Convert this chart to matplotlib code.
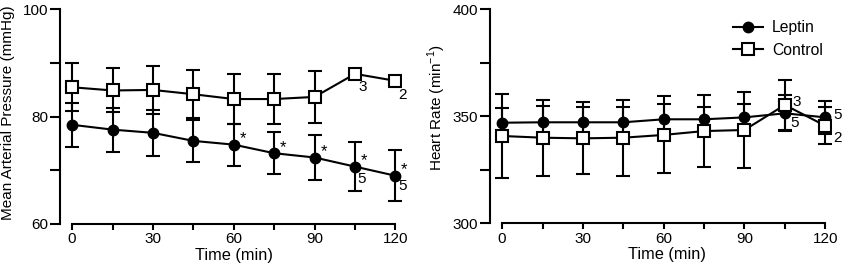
import matplotlib.pyplot as plt
from matplotlib.ticker import MultipleLocator
import numpy as np

plt.rcParams['font.family'] = ['Liberation Sans', 'DejaVu Sans']
plt.rcParams['mathtext.fontset'] = 'custom'
plt.rcParams['mathtext.rm'] = 'Liberation Sans'

time = np.array([0, 15, 30, 45, 60, 75, 90, 105, 120])

# Mean arterial pressure (mmHg)
map_leptin = np.array([78.5, 77.6, 77.0, 75.5, 74.8, 73.2, 72.4, 70.7, 69.0])
map_leptin_se = np.array([4.1, 4.1, 4.3, 3.9, 3.9, 3.9, 4.2, 4.6, 4.8])
map_control = np.array([85.5, 84.9, 85.0, 84.2, 83.3, 83.3, 83.7, 88.0, 86.7])
map_control_se = np.array([4.5, 4.1, 4.5, 4.5, 4.6, 4.7, 4.8, 0, 0])

# Heart rate (min-1)
hr_leptin = np.array([347.0, 347.2, 347.2, 347.2, 348.6, 348.6, 349.5, 351.4, 349.5])
hr_leptin_se = np.array([7.0, 7.6, 7.0, 7.1, 7.1, 5.9, 6.2, 8.5, 7.6])
hr_control = np.array([340.8, 340.0, 339.7, 340.0, 341.3, 343.1, 343.6, 355.3, 345.6])
hr_control_se = np.array([19.5, 17.8, 16.8, 17.8, 18.0, 16.8, 17.8, 11.7, 8.7])

LW = 1.5
fig = plt.figure(figsize=(8.43, 2.68), dpi=100)
ax1 = fig.add_axes([60 / 843, 44 / 268, 340.8 / 843, 214.5 / 268])
ax2 = fig.add_axes([490 / 843, 44.7 / 268, 340.6 / 843, 214 / 268])


def draw(ax, lep, lep_se, con, con_se):
    m = lep_se > 0
    ax.errorbar(time[m], lep[m], yerr=lep_se[m], fmt='none', ecolor='black',
                elinewidth=LW, capsize=5, capthick=LW, zorder=2)
    m = con_se > 0
    ax.errorbar(time[m], con[m], yerr=con_se[m], fmt='none', ecolor='black',
                elinewidth=LW, capsize=5, capthick=LW, zorder=2)
    h1, = ax.plot(time, lep, '-o', color='black', lw=LW, ms=7.5,
                  mfc='black', mec='black', zorder=3, label='Leptin')
    h2, = ax.plot(time, con, '-s', color='black', lw=LW, ms=8.5,
                  mfc='white', mec='black', mew=LW, zorder=4, label='Control')
    return h1, h2


def style(ax, ylim, ymaj, ymin):
    ax.set_xlim(-4.5, 122)
    ax.set_ylim(*ylim)
    ax.spines[['top', 'right']].set_visible(False)
    ax.spines['bottom'].set_bounds(0, 120)
    for s in ['left', 'bottom']:
        ax.spines[s].set_linewidth(LW)
    ax.xaxis.set_major_locator(MultipleLocator(30))
    ax.xaxis.set_minor_locator(MultipleLocator(15))
    ax.yaxis.set_major_locator(MultipleLocator(ymaj))
    ax.yaxis.set_minor_locator(MultipleLocator(ymin))
    ax.tick_params(which='both', direction='out', width=LW, labelsize=11, pad=1.5)
    ax.tick_params(axis='y', which='both', length=7)
    ax.tick_params(axis='x', which='both', length=4.5)
    ax.set_xlabel('Time (min)', fontsize=11.8)


def note(ax, x, y, s, dx, dy, size=11):
    ax.annotate(s, (x, y), xytext=(dx * 0.72, -dy * 0.72), textcoords='offset points',
                ha='center', va='center', fontsize=size)


# Left panel
draw(ax1, map_leptin, map_leptin_se, map_control, map_control_se)
style(ax1, (60, 100), 20, 10)
ax1.set_ylabel('Mean Arterial Pressure (mmHg)', fontsize=11)
ax1.yaxis.set_label_coords(-0.132, 0.518)
ax1.xaxis.set_label_coords(0.509, -0.11)
for t, v in zip(time[4:], map_leptin[4:]):
    note(ax1, t, v, '*', 9, -6, size=12)
note(ax1, 105, map_control[7], '3', 8, 13)
note(ax1, 120, map_control[8], '2', 7, 14)
note(ax1, 105, map_leptin[7], '5', 7, 12)
note(ax1, 120, map_leptin[8], '5', 7, 10)

# Right panel
h1, h2 = draw(ax2, hr_leptin, hr_leptin_se, hr_control, hr_control_se)
style(ax2, (300, 400), 50, 25)
ax2.set_ylabel('Heart Rate (min$^{-1}$)', fontsize=11)
ax2.yaxis.set_label_coords(-0.123, 0.539)
ax2.xaxis.set_label_coords(0.519, -0.11)
note(ax2, 105, hr_control[7], '3', 12, -3)
note(ax2, 105, hr_leptin[7], '5', 10, 10)
note(ax2, 120, hr_leptin[8], '5', 12, -2)
note(ax2, 120, hr_control[8], '2', 12, 12)

ax2.legend(handles=[h1, h2], loc='upper left', bbox_to_anchor=(733 / 843, 1 - 20 / 268),
           bbox_transform=fig.transFigure, frameon=False, borderpad=0, borderaxespad=0,
           handlelength=1.9, handletextpad=0.6, labelspacing=0.5, fontsize=11.3,
           numpoints=1)

fig.savefig('out.png', dpi=100)
plt.close()
